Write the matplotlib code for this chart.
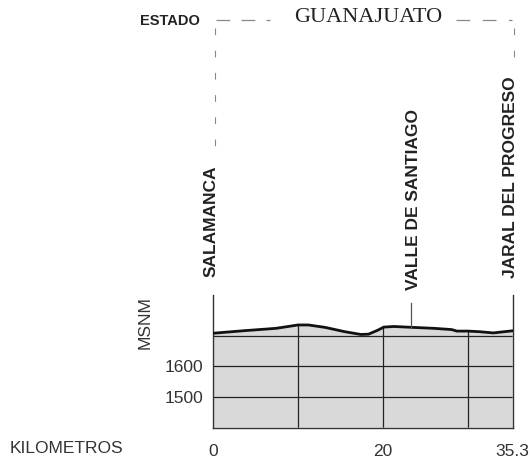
import matplotlib
matplotlib.use("Agg")
import matplotlib.pyplot as plt
from matplotlib.lines import Line2D
import numpy as np

# ---- data ----
km = [0, 3.5, 7.4, 10.0, 11.2, 13.2, 15.5, 17.4, 18.3, 19.4, 20.1, 21.3, 23.6, 26.0, 28.1, 28.7, 30.0, 31.4, 33.0, 35.3]
alt = [1708, 1716, 1724, 1735, 1735, 1727, 1713, 1704, 1705, 1718, 1728, 1730, 1727, 1724, 1720, 1715, 1715, 1713, 1709, 1716]
towns = ["SALAMANCA", "VALLE DE SANTIAGO", "JARAL DEL PROGRESO"]
town_km = [0, 23.3, 35.3]
xtick_vals = [0, 20, 35.3]
xtick_labels = ["0", "20", "35.3"]
ytick_vals = [1500, 1600]
grid_x = [10, 20, 30]
grid_y = [1500, 1600, 1700]
state = "GUANAJUATO"

W, H = 530, 461
fig = plt.figure(figsize=(W / 100, H / 100), dpi=100)
plt.rcParams['font.family'] = ['Liberation Sans', 'DejaVu Sans']

def fx(x):
    return x / W

def fy(y):
    return 1 - y / H

ax_left, ax_right = 213.3, 512.7
ax_bot, ax_top = 427.7, 295.0
ax = fig.add_axes([fx(ax_left), fy(ax_bot), fx(ax_right - ax_left), (ax_bot - ax_top) / H])
ymin = 1400
ymax = 1400 + (ax_bot - ax_top) / 30.67 * 100
ax.set_xlim(0, 35.3)
ax.set_ylim(ymin, ymax)

poly = ax.fill_between(km, alt, ymin, facecolor="#d9d9d9", edgecolor="none", zorder=1)
# clip path from polygon
clip = poly.get_paths()[0]
from matplotlib.patches import PathPatch
pp = PathPatch(clip, transform=ax.transData, facecolor="none", edgecolor="none")
ax.add_patch(pp)
for gx in grid_x:
    l, = ax.plot([gx, gx], [ymin, ymax], color="#222222", lw=0.9, zorder=2)
    l.set_clip_path(pp)
for gy in grid_y:
    l, = ax.plot([0, 35.3], [gy, gy], color="#222222", lw=0.9, zorder=2)
    l.set_clip_path(pp)
ax.plot(km, alt, color="#111111", lw=2.0, zorder=3, solid_capstyle="round")

for s in ["top"]:
    ax.spines[s].set_visible(False)
for s in ["left", "right", "bottom"]:
    ax.spines[s].set_linewidth(1.0)
    ax.spines[s].set_color("#333333")

ax.set_xticks(xtick_vals)
ax.set_xticklabels(xtick_labels, fontsize=12.5, color="#333333")
ax.set_yticks(ytick_vals)
ax.set_yticklabels([str(v) for v in ytick_vals], fontsize=12.5, color="#333333")
ax.tick_params(length=0, axis="x", pad=12)
ax.tick_params(length=0, axis="y", pad=7)
ax.set_facecolor("none")

# town tick for Valle de Santiago
vs_alt = np.interp(town_km[1], km, alt)
ax.plot([town_km[1], town_km[1]], [vs_alt, ymin + (ax_bot - 302.7) / 30.67 * 100],
        color="#555555", lw=0.9, zorder=3, clip_on=False)

# texts
fig.text(fx(170), fy(21), "ESTADO", fontsize=10.5, fontweight="bold", color="#222222",
         ha="center", va="center")
fig.text(fx(368), fy(17), state, fontsize=16, family=["Liberation Serif", "DejaVu Serif"],
         color="#222222", ha="center", va="center")
fig.text(fx(66), fy(448.5), "KILOMETROS", fontsize=12.5, color="#333333", ha="center", va="center")
fig.text(fx(145), fy(323), "MSNM", fontsize=12.5, color="#333333", ha="center", va="center", rotation=90)

label_cfg = [(211, 277), (413.5, 290), (510.5, 278)]
for name, (lx, ly) in zip(towns, label_cfg):
    fig.text(fx(lx), fy(ly), name, fontsize=12.5, fontweight="bold", color="#222222",
             rotation=90, ha="center", va="bottom")

# dashed frame lines
dash_col = "#888888"
def fline(xs, ys, **kw):
    fig.add_artist(Line2D([fx(x) for x in xs], [fy(y) for y in ys], transform=fig.transFigure, **kw))

fline([216, 270], [20, 20], color=dash_col, lw=0.9, linestyle=(0, (11, 9)))
fline([456, 512], [20, 20], color=dash_col, lw=0.9, linestyle=(0, (11, 10)))
fline([215, 215], [28, 158], color=dash_col, lw=0.8, linestyle=(0, (6, 14)))
fline([513.5, 513.5], [28, 72], color=dash_col, lw=0.8, linestyle=(0, (6, 14)))

fig.savefig("out.png", dpi=100)
